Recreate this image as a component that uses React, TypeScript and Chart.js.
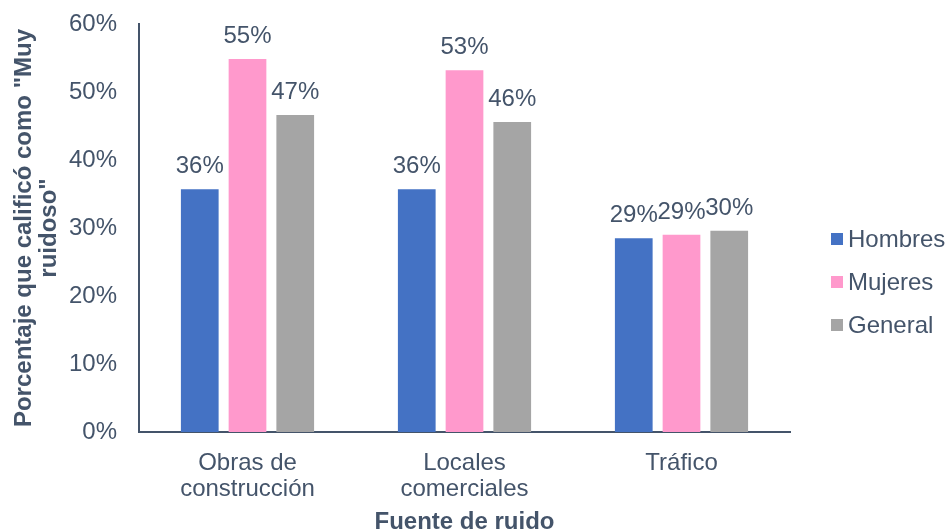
import React, { useEffect, useRef } from "react";
import { Chart, registerables } from "chart.js";

Chart.register(...registerables);

const categories: string[][] = [["Obras de", "construcción"], ["Locales", "comerciales"], ["Tráfico"]];
const seriesNames = ["Hombres", "Mujeres", "General"];
const hombres = [35.7, 35.7, 28.5];
const mujeres = [54.85, 53.2, 29.0];
const general = [46.6, 45.6, 29.6];
const colors = ["#4472C4", "#FF99CC", "#A5A5A5"];
const yTicks = [0, 10, 20, 30, 40, 50, 60];

const TEXT = "#44546A";
const FONT = "'Liberation Sans', Arial, sans-serif";
const FS = 24;

const valueLabels = {
  id: "valueLabels",
  afterDatasetsDraw(chart: any) {
    const ctx = chart.ctx;
    ctx.save();
    ctx.font = `${FS}px ${FONT}`;
    ctx.fillStyle = TEXT;
    ctx.textAlign = "center";
    ctx.textBaseline = "alphabetic";
    chart.data.datasets.forEach((ds: any, i: number) => {
      const meta = chart.getDatasetMeta(i);
      meta.data.forEach((bar: any, j: number) => {
        ctx.fillText(Math.round(ds.data[j]) + "%", bar.x, bar.y - 16);
      });
    });
    ctx.restore();
  },
};

const customLegend = {
  id: "customLegend",
  afterDraw(chart: any) {
    const ctx = chart.ctx;
    ctx.save();
    ctx.font = `${FS}px ${FONT}`;
    ctx.textBaseline = "middle";
    ctx.textAlign = "left";
    const x0 = chart.chartArea.right + 41;
    const ys = [239, 282, 325];
    seriesNames.forEach((n, i) => {
      ctx.fillStyle = colors[i];
      ctx.fillRect(x0, ys[i] - 6, 12, 12);
      ctx.fillStyle = TEXT;
      ctx.fillText(n, x0 + 17, ys[i] + 1);
    });
    ctx.restore();
  },
};

export default function App() {
  const ref = useRef<HTMLCanvasElement>(null);
  useEffect(() => {
    document.body.style.margin = "0";
    const chart = new Chart(ref.current!, {
      type: "bar",
      data: {
        labels: categories,
        datasets: [hombres, mujeres, general].map((d, i) => ({
          label: seriesNames[i],
          data: d,
          backgroundColor: colors[i],
          borderWidth: 0,
          categoryPercentage: 0.66,
          barPercentage: 0.79,
        })),
      },
      options: {
        animation: false,
        responsive: false,
        devicePixelRatio: 1,
        layout: { padding: { top: 24, right: 157, left: 0, bottom: 0 } },
        plugins: {
          legend: { display: false },
          tooltip: { enabled: false },
        },
        scales: {
          x: {
            afterFit: (s: any) => {
              s.height = 99;
              s.paddingLeft = 0;
              s.paddingRight = 0;
            },
            grid: { display: false, drawTicks: false },
            border: { color: TEXT, width: 2 },
            ticks: { color: TEXT, font: { family: FONT, size: FS, lineHeight: 1.083 }, padding: 18, maxRotation: 0 },
            title: {
              display: true,
              text: "Fuente de ruido",
              color: TEXT,
              font: { family: FONT, size: FS, weight: "bold", lineHeight: 1.0 },
              padding: { top: 0, bottom: -3 },
            },
          },
          y: {
            min: 0,
            max: 60,
            afterFit: (s: any) => {
              s.width = 139;
              s.paddingTop = 0;
              s.paddingBottom = 0;
            },
            afterBuildTicks: (axis: any) => {
              axis.ticks = yTicks.map((v) => ({ value: v }));
            },
            grid: { display: false, drawTicks: false },
            border: { color: TEXT, width: 2 },
            ticks: {
              color: TEXT,
              font: { family: FONT, size: FS },
              padding: 22,
              callback: (v: any) => v + "%",
            },
            title: {
              display: true,
              text: ['Porcentaje que calificó como "Muy', 'ruidoso"'],
              color: TEXT,
              font: { family: FONT, size: FS, weight: "bold", lineHeight: 1.04 },
              padding: { top: 12, bottom: 0 },
            },
          },
        },
      },
      plugins: [valueLabels, customLegend],
    });
    return () => chart.destroy();
  }, []);
  return (
    <div style={{ width: 947, height: 531 }}>
      <canvas ref={ref} width={947} height={531} />
    </div>
  );
}
